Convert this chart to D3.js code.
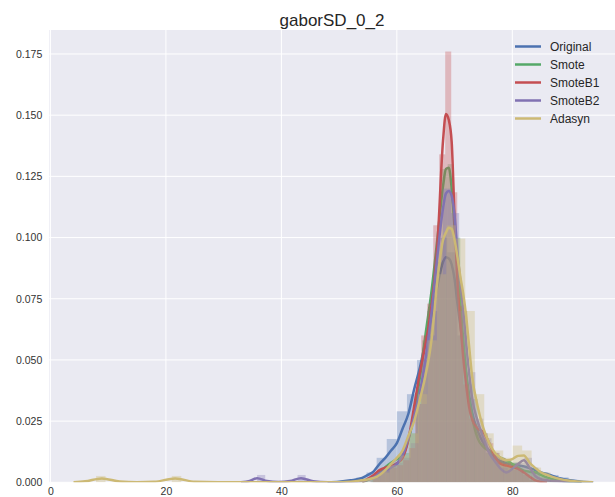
<!DOCTYPE html>
<html>
<head>
<meta charset="utf-8">
<script src="https://cdn.jsdelivr.net/npm/d3@7"></script>
<style>
  body { margin: 0; background: #fff; }
  text { font-family: "Liberation Sans", Arial, sans-serif; }
</style>
</head>
<body>
<div id="chart"></div>
<script>
const title = 'gaborSD_0_2'
const seriesNames = ['Original', 'Smote', 'SmoteB1', 'SmoteB2', 'Adasyn']
const seriesColors = ['#4C72B0', '#55A868', '#C44E52', '#8172B2', '#CCB974']
const xTicks = [0, 20, 40, 60, 80]
const yTicks = [0, 0.025, 0.05, 0.075, 0.1, 0.125, 0.15, 0.175]

const gridX = [4, 6, 8.9, 12, 15, 18, 21.6, 25, 29, 33, 34.5, 35.8, 37.5, 39.5, 41.5, 43.4, 45.5, 48, 50,
  52, 54, 55, 56, 57, 58, 59, 60, 61, 62, 63, 64, 65, 66, 67, 68, 68.5, 69, 69.5, 70,
  70.5, 71, 71.5, 72, 72.5, 73, 74, 75, 76, 77, 78, 79, 80, 81, 82, 83, 84, 85, 86, 88, 90, 92, 94]

const kdeOriginal = [null, null, null, null, null, null, null, null, null, null, null, null, null, null, null, null, null, 0, 0.0002,
  0.0008, 0.0018, 0.003, 0.0045, 0.0075, 0.010, 0.013, 0.016, 0.022, 0.028, 0.038, 0.047, 0.058, 0.068, 0.080, 0.090, 0.092, 0.0915, 0.089, 0.083,
  0.073, 0.064, 0.055, 0.045, 0.036, 0.029, 0.021, 0.016, 0.013, 0.010, 0.0085, 0.0078, 0.0072, 0.007, 0.0065, 0.0058, 0.005, 0.004, 0.0034, 0.0018, 0.0008, 0.0002, 0]
const kdeSmote = [null, null, null, null, null, null, null, null, null, null, null, null, null, null, null, null, null, null, null,
  null, 0, 0.001, 0.002, 0.004, 0.0062, 0.008, 0.0095, 0.011, 0.0173, 0.028, 0.043, 0.061, 0.078, 0.099, 0.121, 0.128, 0.1285, 0.120, 0.104,
  0.088, 0.074, 0.058, 0.045, 0.034, 0.027, 0.018, 0.0145, 0.0128, 0.0115, 0.010, 0.009, 0.0075, 0.006, 0.0048, 0.0043, 0.004, 0.003, 0.002, 0.0008, 0.0002, 0, null]
const kdeSmoteB1 = [null, null, null, null, null, null, null, null, null, null, null, null, null, null, null, null, null, null, null,
  null, 0, 0.0015, 0.003, 0.005, 0.006, 0.0065, 0.0078, 0.010, 0.0175, 0.031, 0.045, 0.057, 0.072, 0.096, 0.1396, 0.1505, 0.148, 0.139, 0.108,
  0.082, 0.065, 0.051, 0.040, 0.031, 0.026, 0.022, 0.0205, 0.016, 0.0104, 0.0075, 0.0068, 0.0062, 0.0055, 0.004, 0.0023, 0.0008, 0.0002, 0, null, null, null, null]
const kdeSmoteB2 = [null, null, null, null, null, null, null, null, null, 0, 0.0005, 0.0017, 0.0005, 0.0001, 0.0005, 0.0017, 0.0004, 0, 0,
  0.0001, 0.0005, 0.001, 0.002, 0.0037, 0.005, 0.006, 0.0075, 0.011, 0.018, 0.027, 0.037, 0.051, 0.069, 0.092, 0.112, 0.118, 0.119, 0.117, 0.109,
  0.094, 0.082, 0.070, 0.057, 0.045, 0.035, 0.025, 0.018, 0.012, 0.0085, 0.0055, 0.004, 0.0055, 0.0075, 0.009, 0.006, 0.0025, 0.0012, 0.0008, 0.0004, 0.0001, 0, null]
const kdeAdasyn = [0, 0.0004, 0.0016, 0.0003, 0, 0.0002, 0.0016, 0.0002, 0, 0, 0, 0, 0, 0, 0, 0, 0, 0, 0,
  0.0002, 0.0008, 0.0012, 0.0018, 0.003, 0.005, 0.0075, 0.010, 0.013, 0.019, 0.025, 0.034, 0.044, 0.058, 0.082, 0.099, 0.102, 0.104, 0.1035, 0.099,
  0.092, 0.084, 0.077, 0.068, 0.056, 0.044, 0.031, 0.022, 0.016, 0.012, 0.010, 0.009, 0.0095, 0.0108, 0.011, 0.008, 0.0058, 0.004, 0.003, 0.0015, 0.0006, 0.0002, 0]

// histogram bins: first edge, bin width, bar heights (density)
const binStart = [53, 55.6, 55.9, 35.8, 7.9]
const binWidth = [1.75, 1.1, 1.04, 1.4, 1.64]
const histOriginal = [0.002, 0.004, 0.010, 0.0177, 0.029, 0.036, 0.050, 0.070, 0.100, 0.094, 0.060, 0.034, 0.020, 0.012, 0.009, 0.008, 0.007, 0.006, 0.004, 0.003, 0.002, 0.001]
const histSmote = [0.002, 0.004, 0.006, 0.008, 0.010, 0.012, 0.020, 0.036, 0.058, 0.070, 0.090, 0.128, 0.130, 0.100, 0.070, 0.040, 0.024, 0.016, 0.012, 0.010, 0.010, 0.009, 0.008, 0.005, 0.004, 0.004, 0.003, 0.002, 0.001]
const histSmoteB1 = [0.003, 0.005, 0.006, 0.006, 0.007, 0.009, 0.014, 0.032, 0.060, 0.073, 0.105, 0.134, 0.176, 0.1185, 0.072, 0.040, 0.026, 0.022, 0.020, 0.016, 0.012, 0.010, 0.008, 0.007, 0.005, 0.003, 0.001]
const histSmoteB2 = [0.003, 0, 0, 0, 0, 0.003, 0, 0, 0, 0, 0, 0, 0, 0, 0.002, 0.004, 0.006, 0.008, 0.010, 0.016, 0.032, 0.060, 0.085, 0.120, 0.110, 0.070, 0.045, 0.026, 0.018, 0.012, 0.006, 0.005, 0.008, 0.010, 0.004, 0.002, 0.001, 0.001, 0, 0]
const histAdasyn = [0.0026, 0, 0, 0, 0, 0, 0, 0, 0.0026, 0, 0, 0, 0, 0, 0, 0, 0, 0, 0, 0, 0, 0, 0, 0, 0, 0, 0, 0,
  0.001, 0.002, 0.004, 0.007, 0.011, 0.020, 0.036, 0.058, 0.085, 0.105, 0.0996, 0.070, 0.036, 0.020, 0.013, 0.010, 0.015, 0.013, 0.006, 0.004, 0.002, 0.001, 0.0005, 0]

const kdes = [kdeOriginal, kdeSmote, kdeSmoteB1, kdeSmoteB2, kdeAdasyn]
const hists = [histOriginal, histSmote, histSmoteB1, histSmoteB2, histAdasyn]

const width = 615
const height = 497
const plot = {left: 49.3, top: 30, right: 622, bottom: 482.3}

const svg = d3.select('#chart').append('svg')
  .attr('width', width)
  .attr('height', height)

const x = d3.scaleLinear().domain([-0.2, 99]).range([plot.left, plot.right])
const y = d3.scaleLinear().domain([0, 0.1848]).range([plot.bottom, plot.top])

svg.append('rect')
  .attr('x', plot.left).attr('y', plot.top)
  .attr('width', plot.right - plot.left).attr('height', plot.bottom - plot.top)
  .attr('fill', '#EAEAF2')

// grid
svg.append('g').selectAll('line').data(xTicks).join('line')
  .attr('x1', d => x(d)).attr('x2', d => x(d))
  .attr('y1', plot.top).attr('y2', plot.bottom)
  .attr('stroke', '#fff').attr('stroke-width', 1)
svg.append('g').selectAll('line').data(yTicks).join('line')
  .attr('x1', plot.left).attr('x2', plot.right)
  .attr('y1', d => y(d)).attr('y2', d => y(d))
  .attr('stroke', '#fff').attr('stroke-width', 1)

// axes (labels only, seaborn darkgrid has no ticks or spines)
const xAxis = svg.append('g')
  .attr('transform', `translate(0,${plot.bottom})`)
  .call(d3.axisBottom(x).tickValues(xTicks).tickFormat(d3.format('d')).tickSize(0).tickPadding(5))
const yAxis = svg.append('g')
  .attr('transform', `translate(${plot.left},0)`)
  .call(d3.axisLeft(y).tickValues(yTicks).tickFormat(d3.format('.3f')).tickSize(0).tickPadding(7))
xAxis.select('.domain').remove()
yAxis.select('.domain').remove()
svg.selectAll('.tick text')
  .attr('font-family', '"Liberation Sans", Arial, sans-serif')
  .attr('font-size', 10.5)
  .attr('fill', '#333')

svg.append('clipPath').attr('id', 'plotclip')
  .append('rect')
  .attr('x', plot.left).attr('y', plot.top)
  .attr('width', plot.right - plot.left).attr('height', plot.bottom - plot.top)

const marks = svg.append('g').attr('clip-path', 'url(#plotclip)')

const line = d3.line()
  .defined(d => d[1] !== null)
  .x(d => x(d[0]))
  .y(d => y(d[1]))
  .curve(d3.curveMonotoneX)

seriesNames.forEach((name, i) => {
  const bars = hists[i].map((h, j) => ({x0: binStart[i] + j * binWidth[i], h: h}))
  marks.append('g').selectAll('rect').data(bars.filter(b => b.h > 0)).join('rect')
    .attr('x', b => x(b.x0))
    .attr('width', b => x(b.x0 + binWidth[i]) - x(b.x0))
    .attr('y', b => y(b.h))
    .attr('height', b => y(0) - y(b.h))
    .attr('fill', seriesColors[i])
    .attr('fill-opacity', 0.33)

  const pts = gridX.map((gx, j) => [gx, kdes[i][j]])
  marks.append('path')
    .datum(pts)
    .attr('d', line)
    .attr('fill', 'none')
    .attr('stroke', seriesColors[i])
    .attr('stroke-width', 2.5)
})

svg.append('text')
  .attr('x', 332).attr('y', 26)
  .attr('text-anchor', 'middle')
  .attr('font-size', 17)
  .attr('fill', '#262626')
  .text(title)

const legend = svg.append('g')
seriesNames.forEach((name, i) => {
  const ly = 46.5 + i * 18
  legend.append('line')
    .attr('x1', 515).attr('x2', 541)
    .attr('y1', ly).attr('y2', ly)
    .attr('stroke', seriesColors[i]).attr('stroke-width', 2.5)
  legend.append('text')
    .attr('x', 550).attr('y', ly)
    .attr('dy', '0.35em')
    .attr('font-size', 12)
    .attr('fill', '#262626')
    .text(name)
})
</script>
</body>
</html>
